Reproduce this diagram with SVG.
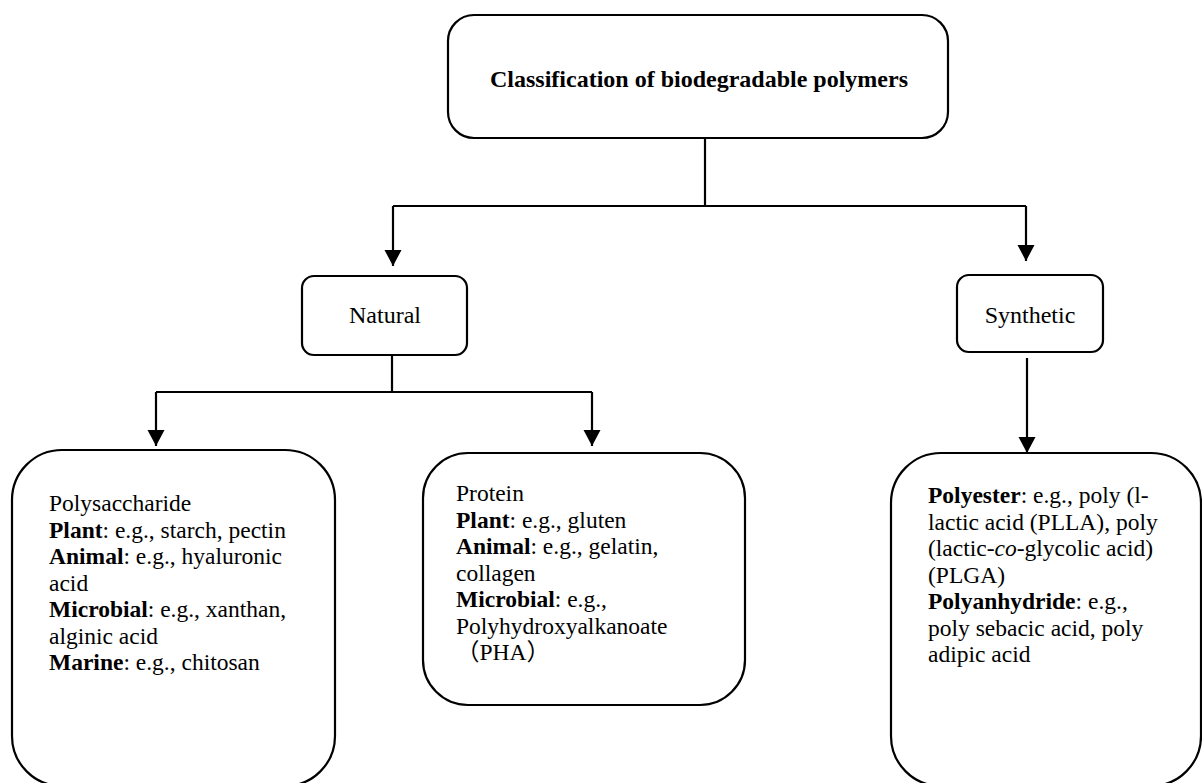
<svg xmlns="http://www.w3.org/2000/svg" width="1202" height="783" viewBox="0 0 1202 783">
<style>
.box{fill:#fff;stroke:#000;stroke-width:2.2}
.ln{fill:none;stroke:#000;stroke-width:2.2}
text{font-family:'Liberation Serif',serif;font-size:23.5px;fill:#000}
.b{font-weight:bold}
.c{text-anchor:middle}
.cjk{font-family:'Liberation Serif','Noto Sans CJK SC',serif}
</style>
<defs>
<marker id="ah" markerUnits="userSpaceOnUse" markerWidth="18" markerHeight="18" refX="16" refY="8.5" orient="auto">
<path d="M0,0 L16,8.5 L0,17 Z" fill="#000"/>
</marker>
</defs>
<g id="connectors">
<path class="ln" d="M705,138 V206"/>
<path class="ln" d="M393,206 H1026"/>
<path class="ln" d="M393,206 V266" marker-end="url(#ah)"/>
<path class="ln" d="M1026,206 V261" marker-end="url(#ah)"/>
<path class="ln" d="M392,356 V392"/>
<path class="ln" d="M156,392 H592"/>
<path class="ln" d="M156,392 V446" marker-end="url(#ah)"/>
<path class="ln" d="M592,392 V446" marker-end="url(#ah)"/>
<path class="ln" d="M1027,358 V453" marker-end="url(#ah)"/>
</g>
<g id="title">
<rect class="box" x="448" y="15" width="500" height="123" rx="26"/>
<text class="b c" x="699" y="87" style="font-size:24px">Classification of biodegradable polymers</text>
</g>
<g id="natural">
<rect class="box" x="302" y="276" width="165" height="79" rx="12"/>
<text class="c" x="385" y="323" style="font-size:24px">Natural</text>
</g>
<g id="synthetic">
<rect class="box" x="957" y="275" width="146" height="77" rx="12"/>
<text class="c" x="1030" y="323" style="font-size:24px">Synthetic</text>
</g>
<g id="polysaccharide">
<rect class="box" x="12" y="450" width="323" height="336" rx="50"/>
<text x="49" y="511">Polysaccharide</text>
<text x="49" y="537.5"><tspan class="b">Plant</tspan>: e.g., starch, pectin</text>
<text x="49" y="564"><tspan class="b">Animal</tspan>: e.g., hyaluronic</text>
<text x="49" y="590.5">acid</text>
<text x="49" y="617"><tspan class="b">Microbial</tspan>: e.g., xanthan,</text>
<text x="49" y="643.5">alginic acid</text>
<text x="49" y="670"><tspan class="b">Marine</tspan>: e.g., chitosan</text>
</g>
<g id="protein">
<rect class="box" x="423" y="453" width="322" height="252" rx="45"/>
<text x="456" y="501">Protein</text>
<text x="456" y="527.5"><tspan class="b">Plant</tspan>: e.g., gluten</text>
<text x="456" y="554"><tspan class="b">Animal</tspan>: e.g., gelatin,</text>
<text x="456" y="580.5">collagen</text>
<text x="456" y="607"><tspan class="b">Microbial</tspan>: e.g.,</text>
<text x="456" y="633.5">Polyhydroxyalkanoate</text>
<text class="cjk" x="456" y="660">（PHA）</text>
</g>
<g id="synthetic-types">
<rect class="box" x="891" y="453" width="310" height="333" rx="50"/>
<text x="928" y="503"><tspan class="b">Polyester</tspan>: e.g., poly (l-</text>
<text x="928" y="529.5">lactic acid (PLLA), poly</text>
<text x="928" y="556">(lactic-<tspan font-style="italic">co</tspan>-glycolic acid)</text>
<text x="928" y="582.5">(PLGA)</text>
<text x="928" y="609"><tspan class="b">Polyanhydride</tspan>: e.g.,</text>
<text x="928" y="635.5">poly sebacic acid, poly</text>
<text x="928" y="662">adipic acid</text>
</g>
</svg>
